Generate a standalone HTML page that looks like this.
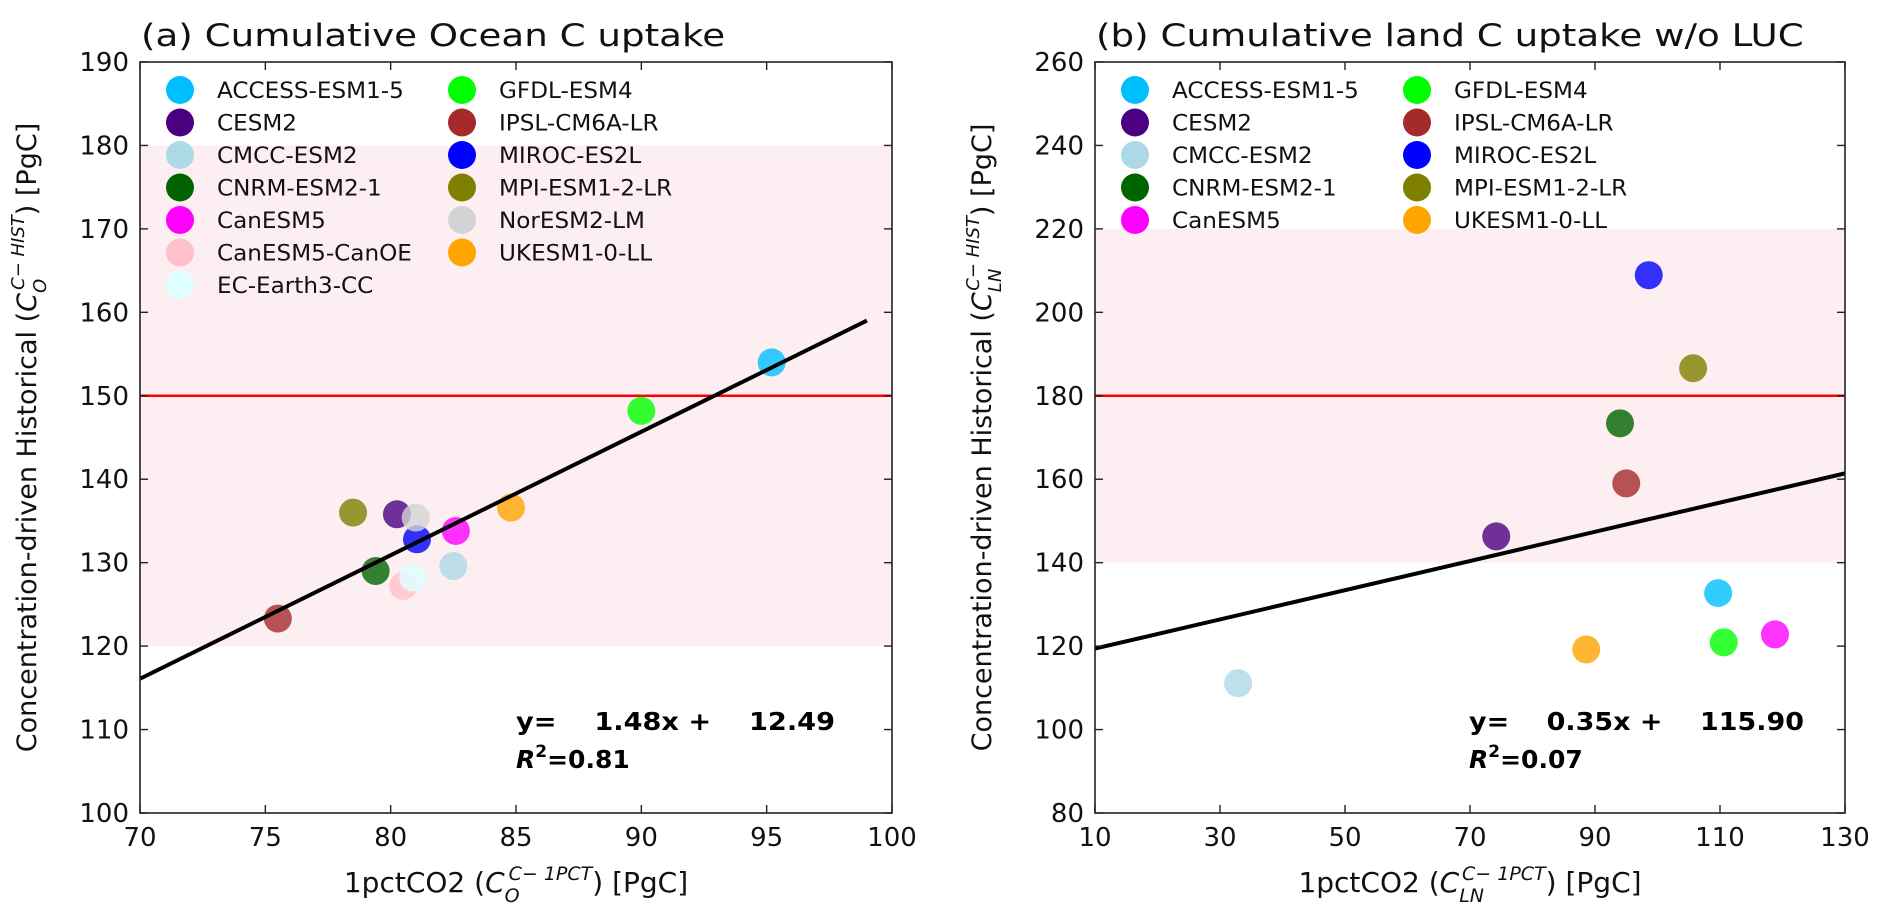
<!DOCTYPE html>
<html><head><meta charset="utf-8"><style>
html,body{margin:0;padding:0;background:#fff;}
svg{display:block;font-family:"DejaVu Sans","Liberation Sans",sans-serif;}
.pre{white-space:pre;}
</style></head><body>
<svg id="fig" width="1892" height="920" viewBox="0 0 1892 920" xmlns="http://www.w3.org/2000/svg"></svg>
<script>
// Panel (a) data
const aModels = ["ACCESS-ESM1-5","CESM2","CMCC-ESM2","CNRM-ESM2-1","CanESM5","CanESM5-CanOE","EC-Earth3-CC","GFDL-ESM4","IPSL-CM6A-LR","MIROC-ES2L","MPI-ESM1-2-LR","NorESM2-LM","UKESM1-0-LL"];
const aX = [95.2,80.25,82.5,79.4,82.6,80.5,80.9,90.0,75.5,81.05,78.5,81.0,84.8];
const aY = [154.0,135.8,129.6,129.0,133.8,127.2,128.2,148.2,123.3,132.8,136.0,135.4,136.6];
const aXTicks = [70,75,80,85,90,95,100];
const aYTicks = [100,110,120,130,140,150,160,170,180,190];
const aFit = [1.48,12.49];
const aFitRange = [70,99];
// Panel (b) data
const bModels = ["ACCESS-ESM1-5","CESM2","CMCC-ESM2","CNRM-ESM2-1","CanESM5","GFDL-ESM4","IPSL-CM6A-LR","MIROC-ES2L","MPI-ESM1-2-LR","UKESM1-0-LL"];
const bX = [109.7,74.2,32.9,94.0,118.8,110.6,95.0,98.6,105.7,88.6];
const bY = [132.7,146.3,111.1,173.4,122.8,120.9,159.0,208.9,186.6,119.2];
const bXTicks = [10,30,50,70,90,110,130];
const bYTicks = [80,100,120,140,160,180,200,220,240,260];
const bFit = [0.35,115.90];
const bFitRange = [10,130];

const colors = {"ACCESS-ESM1-5":"#00bfff","CESM2":"#4b0082","CMCC-ESM2":"#add8e6","CNRM-ESM2-1":"#006400","CanESM5":"#ff00ff","CanESM5-CanOE":"#ffc0cb","EC-Earth3-CC":"#e0ffff","GFDL-ESM4":"#00ff00","IPSL-CM6A-LR":"#a52a2a","MIROC-ES2L":"#0000ff","MPI-ESM1-2-LR":"#808000","NorESM2-LM":"#d3d3d3","UKESM1-0-LL":"#ffa500"};
const NS="http://www.w3.org/2000/svg";
const svg=document.getElementById('fig');
function mk(tag,attrs,parent,text){const e=document.createElementNS(NS,tag);for(const k in attrs)e.setAttribute(k,attrs[k]);if(text!==undefined)e.textContent=text;(parent||svg).appendChild(e);return e;}
function stretch(t,k){try{const l=t.getComputedTextLength();if(l>0){t.setAttribute('textLength',(l*k).toFixed(1));t.setAttribute('lengthAdjust','spacingAndGlyphs');}}catch(e){}}

function panel(cfg){
  const g=mk('g',{});
  
  
  const L=cfg.L,R=cfg.R,T=62,B=813;
  const sx=v=>L+(v-cfg.xmin)/(cfg.xmax-cfg.xmin)*(R-L);
  const sy=v=>B-(v-cfg.ymin)/(cfg.ymax-cfg.ymin)*(B-T);
  const band=mk('rect',{x:L,y:sy(cfg.band[1]),width:R-L,height:sy(cfg.band[0])-sy(cfg.band[1]),fill:'#fdeff1'},g);
  
  
  const red=mk('line',{x1:L,x2:R,y1:sy(cfg.ref),y2:sy(cfg.ref),stroke:'#ff0000','stroke-width':2.5},g);
  
  
  for(let i=0;i<cfg.models.length;i++){
    const c=mk('circle',{cx:sx(cfg.xs[i]),cy:sy(cfg.ys[i]),r:14,fill:colors[cfg.models[i]],'fill-opacity':0.8},g);
    
    
  }
  const f=cfg.fit, fr=cfg.fitRange;
  const fl=mk('line',{x1:sx(fr[0]),y1:sy(f[0]*fr[0]+f[1]),x2:sx(fr[1]),y2:sy(f[0]*fr[1]+f[1]),stroke:'#000','stroke-width':4},g);
  
  
  const ax=mk('rect',{x:L,y:T,width:R-L,height:B-T,fill:'none',stroke:'#222','stroke-width':1.6},g);
  
  
  cfg.xticks.forEach(v=>{
    const x=sx(v);
    mk('line',{x1:x,x2:x,y1:B,y2:B-8,stroke:'#222','stroke-width':1.4},g);
    mk('line',{x1:x,x2:x,y1:T,y2:T+8,stroke:'#222','stroke-width':1.4},g);
    const t=mk('text',{x:x,y:B+33,'font-size':26,'text-anchor':'middle',fill:'#111'},g,String(v));
    
    
  });
  cfg.yticks.forEach(v=>{
    const y=sy(v);
    mk('line',{x1:L,x2:L+8,y1:y,y2:y,stroke:'#222','stroke-width':1.4},g);
    mk('line',{x1:R,x2:R-8,y1:y,y2:y,stroke:'#222','stroke-width':1.4},g);
    const t=mk('text',{x:L-11,y:y+9,'font-size':26,'text-anchor':'end',fill:'#111'},g,String(v));
    
    
  });
  const title=mk('text',{x:L+1,y:46,'font-size':31,fill:'#111'},g,cfg.title);
  
  
  stretch(title,1.2);
  // x label
  const xl=mk('text',{x:(L+R)/2,y:892,'font-size':28,'text-anchor':'middle',fill:'#111'},g);
  
  
  mk('tspan',{},xl,'1pctCO2 (');
  mk('tspan',{'font-style':'italic'},xl,'C');
  mk('tspan',{'font-style':'italic','font-size':19,dy:10},xl,cfg.sub);
  mk('tspan',{'font-style':'italic','font-size':19,dy:-22,dx:-11*cfg.sub.length},xl,'C\u2212 1PCT');
  mk('tspan',{dy:12},xl,') [PgC]');
  // y label
  const cy=(T+B)/2;
  const yl=mk('text',{x:0,y:0,'font-size':27,'text-anchor':'middle',fill:'#111',transform:`translate(${cfg.ylx},${cy}) rotate(-90)`},g);
  
  
  mk('tspan',{},yl,'Concentration-driven Historical (');
  mk('tspan',{'font-style':'italic'},yl,'C');
  mk('tspan',{'font-style':'italic','font-size':18,dy:10},yl,cfg.sub);
  mk('tspan',{'font-style':'italic','font-size':18,dy:-22,dx:-11*cfg.sub.length},yl,'C\u2212 HIST');
  mk('tspan',{dy:12},yl,') [PgC]');
  // legend
  const lg=mk('g',{},g);
  
  
  const per=cfg.perCol;
  cfg.models.forEach((m,i)=>{
    const col=Math.floor(i/per), row=i%per;
    const x=L+40+col*282, y=90+row*32.5;
    const e=mk('g',{},lg);
    
    
    mk('circle',{cx:x,cy:y,r:14,fill:colors[m]},e);
    const t=mk('text',{x:x+37,y:y+8,'font-size':22,fill:'#111'},e,m);
    stretch(t,1.05);
  });
  // equation
  const eq=mk('text',{x:cfg.eqx,y:730,'font-size':25,'font-weight':'bold',fill:'#000','class':'pre'},g,`y=    ${f[0].toFixed(2)}x +    ${f[1].toFixed(2)}`);
  
  
  eq.setAttribute('textLength',cfg.eqw);
  eq.setAttribute('lengthAdjust','spacingAndGlyphs');
  const r2=mk('text',{x:cfg.eqx,y:768,'font-size':25,'font-weight':'bold',fill:'#000'},g);
  
  
  mk('tspan',{'font-style':'italic'},r2,'R');
  mk('tspan',{'font-size':17,dy:-11},r2,'2');
  mk('tspan',{dy:11},r2,'='+cfg.r2);
}
panel({name:'panel-a-ocean',L:140,R:892,xmin:70,xmax:100,ymin:100,ymax:190,band:[120,180],ref:150,
  models:aModels,xs:aX,ys:aY,xticks:aXTicks,yticks:aYTicks,fit:aFit,fitRange:aFitRange,
  title:'(a) Cumulative Ocean C uptake',sub:'O',ylx:36,perCol:7,eqx:516,eqw:319,r2:'0.81'});
panel({name:'panel-b-land',L:1095,R:1845,xmin:10,xmax:130,ymin:80,ymax:260,band:[140,220],ref:180,
  models:bModels,xs:bX,ys:bY,xticks:bXTicks,yticks:bYTicks,fit:bFit,fitRange:bFitRange,
  title:'(b) Cumulative land C uptake w/o LUC',sub:'LN',ylx:991,perCol:5,eqx:1469,eqw:335,r2:'0.07'});
</script>
</body></html>
